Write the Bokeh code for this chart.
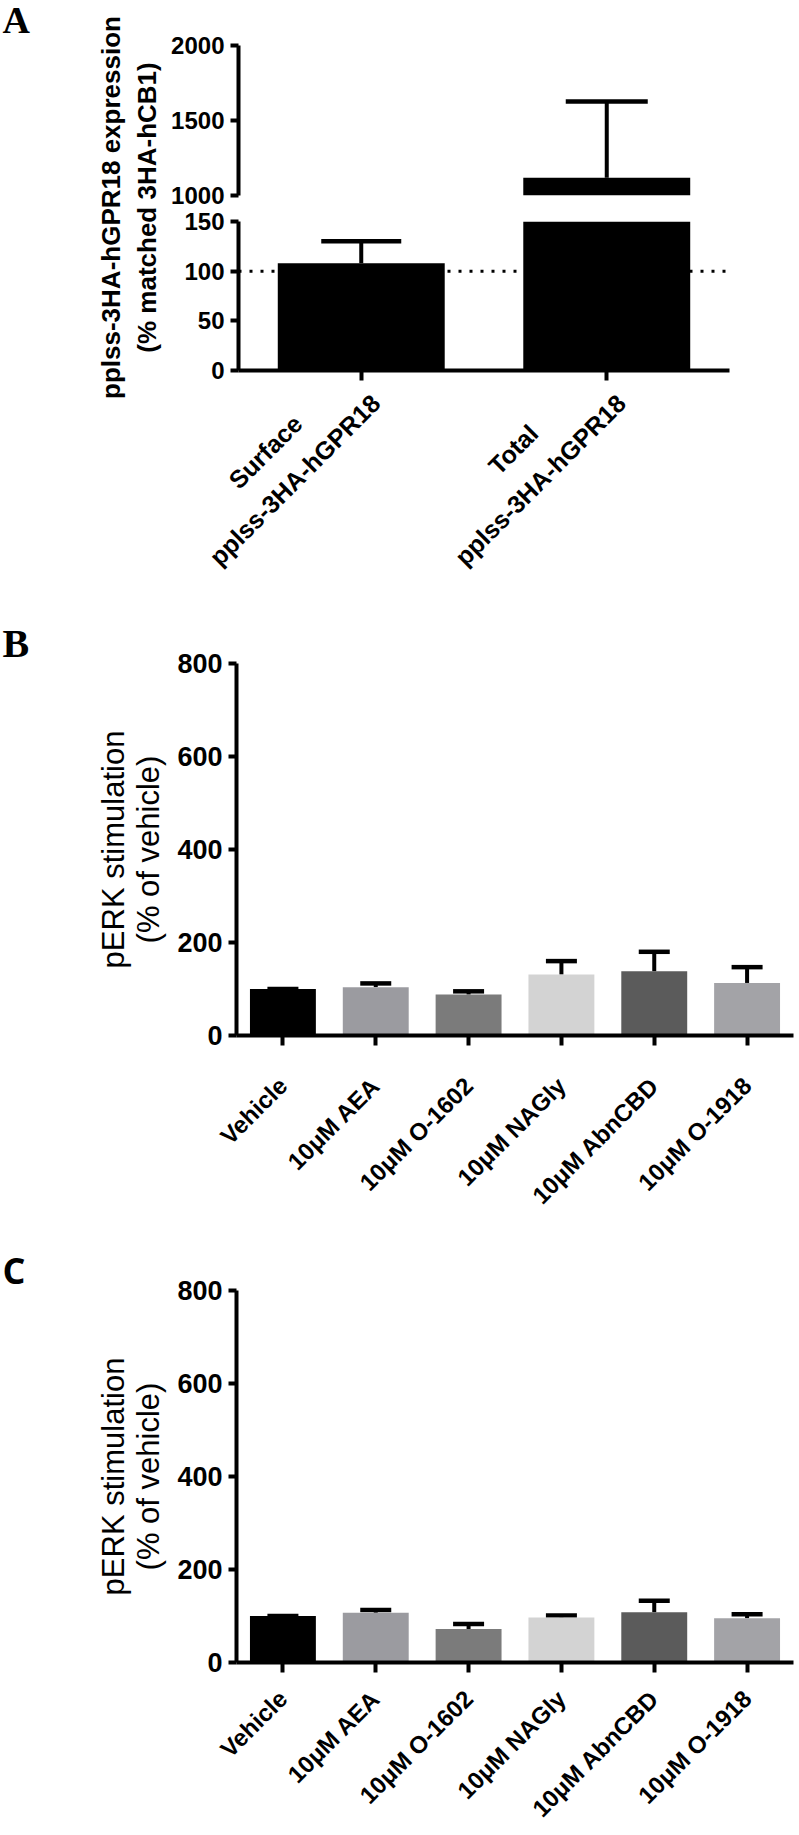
import math
from bokeh.plotting import figure
from bokeh.models import (ColumnDataSource, FactorRange, Range1d, FixedTicker,
                          Whisker, TeeHead, Span, Label)
from bokeh.layouts import column, row
from bokeh.embed import file_html
from bokeh.resources import INLINE

# ---------------- data ----------------
a_groups = ["Surface", "Total"]
a_construct = "pplss-3HA-hGPR18"
a_means = [108, 1118]
a_sem = [22, 509]
a_ticks_upper = [1000, 1500, 2000]
a_ticks_lower = [0, 50, 100, 150]
a_reference_line = 100
a_ylabel = ["pplss-3HA-hGPR18 expression", "(% matched 3HA-hCB1)"]

bc_categories = ["Vehicle", "10μM AEA", "10μM O-1602", "10μM NAGly", "10μM AbnCBD", "10μM O-1918"]
b_means = [100, 104, 88, 131, 138, 113]
b_sem = [0, 8, 7, 29, 42, 34]
c_means = [100, 107, 72, 97, 108, 95]
c_sem = [0, 6, 11, 4, 25, 9]
bc_colors = ["#000000", "#9b9ba0", "#7b7b7b", "#d3d3d3", "#5b5b5b", "#a3a3a7"]
bc_ticks = [0, 200, 400, 600, 800]
bc_ylabel = ["pERK stimulation", "(% of vehicle)"]

SANS = "Liberation Sans"
SERIF = "Liberation Serif"
LEFT_W = 168
MAIN_W = 631
A_PAD = [10, 12]  # non-breaking spaces that centre the short first label line

# two-line tick labels for panel A (first line padded so both lines are centred)
a_labels = [g + "\u00a0" * n + "\n" + a_construct for g, n in zip(a_groups, A_PAD)]


def style(p, ytick_px, xtick_px, xstand):
    p.grid.visible = False
    p.outline_line_color = None
    for ax in p.axis:
        ax.axis_line_width = 4
        ax.axis_line_color = "black"
        ax.major_tick_line_width = 4
        ax.major_tick_line_color = "black"
        ax.major_tick_in = 0
        ax.minor_tick_line_color = None
        ax.major_label_text_font = SANS
        ax.major_label_text_font_style = "bold"
        ax.major_label_text_color = "black"
    for ax in p.yaxis:
        ax.major_tick_out = 8
        ax.major_label_standoff = 6
        ax.major_label_text_font_size = f"{ytick_px}px"
    for ax in p.xaxis:
        ax.major_tick_out = 10
        ax.major_label_standoff = xstand
        ax.major_label_text_font_size = f"{xtick_px}px"
        ax.major_label_orientation = math.pi / 4


def left_strip(height, letter, letter_font, letter_size, letter_mid, title_xs, title_mid,
               titles, title_px, title_style):
    # data units: x = pixels from left, y = pixels from bottom of the strip
    s = figure(width=LEFT_W, height=height, x_range=Range1d(0, LEFT_W),
               y_range=Range1d(0, height), x_axis_location=None, y_axis_location=None,
               min_border=0, toolbar_location=None, output_backend="svg")
    s.outline_line_color = None
    s.grid.visible = False
    s.add_layout(Label(x=2, y=height - letter_mid, text=letter, text_font=letter_font,
                       text_font_style="bold", text_font_size=letter_size,
                       text_color="black", text_align="left", text_baseline="middle"))
    for xx, txt in zip(title_xs, titles):
        s.add_layout(Label(x=xx, y=height - title_mid, text=txt, angle=math.pi / 2,
                           text_font=SANS, text_font_style=title_style,
                           text_font_size=title_px, text_color="black",
                           text_align="center", text_baseline="middle"))
    return s


# ---------------- panel A (broken axis) ----------------
a_xr = FactorRange(factors=a_labels)

pa_up = figure(width=MAIN_W, height=208, x_range=a_xr,
               y_range=Range1d(a_ticks_upper[0], a_ticks_upper[-1]),
               x_axis_location=None, min_border_left=70, min_border_right=70,
               min_border_top=45, min_border_bottom=13,
               toolbar_location=None, output_backend="svg")
pa_up.yaxis.ticker = FixedTicker(ticks=a_ticks_upper)
up_idx = [i for i, m in enumerate(a_means) if m > a_ticks_upper[0]]
src_up = ColumnDataSource(dict(
    x=[a_labels[i] for i in up_idx],
    top=[a_means[i] for i in up_idx],
    upper=[a_means[i] + a_sem[i] for i in up_idx]))
pa_up.vbar(x="x", bottom=a_ticks_upper[0], top="top", width=0.68, source=src_up,
           fill_color="black", line_color=None)
pa_up.add_layout(Whisker(source=src_up, base="x", lower="top", upper="upper",
                         dimension="height", line_width=4, line_color="black",
                         lower_head=None,
                         upper_head=TeeHead(size=82, line_width=4.5, line_color="black")))
style(pa_up, 24, 25, 4)

pa_low = figure(width=MAIN_W, height=407, x_range=a_xr,
                y_range=Range1d(a_ticks_lower[0], a_ticks_lower[-1]),
                min_border_left=70, min_border_right=70,
                min_border_top=13, min_border_bottom=245,
                toolbar_location=None, output_backend="svg")
pa_low.yaxis.ticker = FixedTicker(ticks=a_ticks_lower)
pa_low.add_layout(Span(location=a_reference_line, dimension="width", line_color="black",
                       line_width=3, line_dash="3 8", level="underlay"))
src_low = ColumnDataSource(dict(
    x=a_labels,
    top=[min(m, a_ticks_lower[-1]) for m in a_means]))
pa_low.vbar(x="x", bottom=0, top="top", width=0.68, source=src_low,
            fill_color="black", line_color=None)
low_idx = [i for i, m in enumerate(a_means) if m + a_sem[i] <= a_ticks_lower[-1]]
src_low_err = ColumnDataSource(dict(
    x=[a_labels[i] for i in low_idx],
    top=[a_means[i] for i in low_idx],
    upper=[a_means[i] + a_sem[i] for i in low_idx]))
pa_low.add_layout(Whisker(source=src_low_err, base="x", lower="top", upper="upper",
                          dimension="height", line_width=4, line_color="black",
                          lower_head=None,
                          upper_head=TeeHead(size=80, line_width=4.5, line_color="black")))
style(pa_low, 24, 25, 4)
pa_low.xaxis.major_label_text_line_height = 1.45

left_a = left_strip(615, "A", SERIF, "38px", 19, [110, 146], 207, a_ylabel, "26px", "bold")


# ---------------- panels B and C ----------------
def make_bc(means, sems, height, top_b, bottom_b, xstand):
    p = figure(width=MAIN_W, height=height, x_range=FactorRange(factors=bc_categories),
               y_range=Range1d(bc_ticks[0], bc_ticks[-1]),
               min_border_left=68, min_border_right=6,
               min_border_top=top_b, min_border_bottom=bottom_b,
               toolbar_location=None, output_backend="svg")
    p.yaxis.ticker = FixedTicker(ticks=bc_ticks)
    src = ColumnDataSource(dict(x=bc_categories, top=means,
                                upper=[m + s for m, s in zip(means, sems)],
                                color=bc_colors))
    p.vbar(x="x", bottom=0, top="top", width=0.71, source=src,
           fill_color="color", line_color=None)
    p.add_layout(Whisker(source=src, base="x", lower="top", upper="upper",
                         dimension="height", line_width=4, line_color="black",
                         lower_head=None,
                         upper_head=TeeHead(size=31, line_width=4.5, line_color="black")))
    style(p, 27, 24, xstand)
    return p


pb = make_bc(b_means, b_sem, 625, 48, 205, 36)
left_b = left_strip(625, "B", SERIF, "40px", 28, [113, 148], 234, bc_ylabel, "31px", "normal")
pc = make_bc(c_means, c_sem, 595, 50, 173, 22)
left_c = left_strip(595, "C", "Open Sans", "36px", 30, [113, 148], 236,
                    bc_ylabel, "31px", "normal")

# wrapping in columns keeps the strips from being frame-aligned with the plots
root = column(row(left_a, column(pa_up, pa_low)),
              row(column(left_b), column(pb)),
              row(column(left_c), column(pc)))
open("out.html", "w").write(file_html(root, INLINE))
